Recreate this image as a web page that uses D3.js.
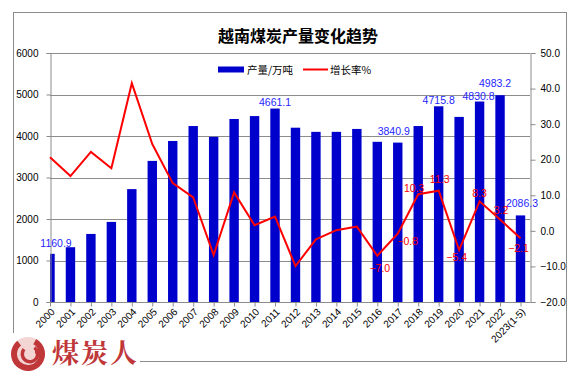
<!DOCTYPE html>
<html><head><meta charset="utf-8">
<script src="https://cdn.jsdelivr.net/npm/d3@7"></script>
<style>
html,body{margin:0;padding:0;background:#fff;}
svg{display:block;}
</style></head>
<body>
<svg id="chart" width="582" height="376"></svg>
<script>
const years = ["2000","2001","2002","2003","2004","2005","2006","2007","2008","2009","2010","2011","2012","2013","2014","2015","2016","2017","2018","2019","2020","2021","2022","2023(1-5)"];
const production = [1160.9,1320,1640,1930,2720,3400,3880,4240,3980,4410,4480,4661.1,4200,4100,4100,4170,3860,3840.9,4240,4715.8,4460,4830.8,4983.2,2086.3];
const growth = [20.7,15.4,22.2,17.6,41.5,24.4,13.4,9.4,-6.8,10.8,1.6,4.0,-9.9,-2.4,0.2,1.2,-7.0,-0.8,10.3,11.3,-5.4,8.3,3.2,-2.1];
const leftTicks = [0,1000,2000,3000,4000,5000,6000];
const rightTicks = [-20,-10,0,10,20,30,40,50];
const prodLabelIdx = [0,11,17,19,21,22,23];
const growthLabelIdx = [16,17,18,19,20,21,22,23];
const title = "越南煤炭产量变化趋势";
const seriesNames = ["产量/万吨","增长率%"];

const svg = d3.select("#chart");
const L = 50, R = 530, T = 53, B = 302;
const gray = "#8c8c8c";
const font = "'Liberation Sans', Arial, sans-serif";
const cjk = "'Noto Sans CJK SC', sans-serif";

const x = d3.scalePoint().domain(years).range([L, 520.5]);
const yL = d3.scaleLinear().domain([0,6000]).range([B,T]);
const yR = d3.scaleLinear().domain([-20,50]).range([B,T]);

// frame
svg.append("rect").attr("x",13.5).attr("y",12.5).attr("width",553).attr("height",349)
  .attr("fill","none").attr("stroke",gray).attr("stroke-width",1);

// title
svg.append("text").attr("x",298).attr("y",35).attr("text-anchor","middle")
  .attr("dominant-baseline","central").attr("font-family",cjk).attr("font-weight","bold")
  .attr("font-size",16).attr("fill","#000").text(title);

// gridlines
svg.append("g").selectAll("line").data(leftTicks.filter(d=>d>0)).join("line")
  .attr("x1",L).attr("x2",R).attr("y1",d=>Math.round(yL(d))+0.5).attr("y2",d=>Math.round(yL(d))+0.5)
  .attr("stroke",gray).attr("stroke-width",1);

// clip
svg.append("clipPath").attr("id","plotclip").append("rect")
  .attr("x",L).attr("y",T-40).attr("width",R-L).attr("height",B-T+40);

// bars
const bw = 9.4;
svg.append("g").attr("clip-path","url(#plotclip)").selectAll("rect").data(production).join("rect")
  .attr("x",(d,i)=>x(years[i])-bw/2).attr("width",bw)
  .attr("y",d=>yL(d)).attr("height",d=>B-yL(d)).attr("fill","#0000CC");

// left axis
const axL = svg.append("g").attr("transform",`translate(${L+0.5},0)`)
  .call(d3.axisLeft(yL).tickValues(leftTicks).tickSize(4).tickPadding(8).tickFormat(d3.format("d")));
// right axis
const axR = svg.append("g").attr("transform",`translate(${R+0.5},0)`)
  .call(d3.axisRight(yR).tickValues(rightTicks).tickSize(5).tickPadding(5).tickFormat(d3.format(".1f")));
// bottom axis
const axB = svg.append("g").attr("transform",`translate(0,${B+0.5})`)
  .call(d3.axisBottom(x).tickSize(4).tickSizeOuter(0).tickFormat(""));
[axL,axR,axB].forEach(a=>{
  a.select(".domain").attr("stroke",gray);
  a.selectAll(".tick line").attr("stroke",gray);
  a.selectAll("text").attr("font-family",font).attr("font-size",10).attr("fill","#000");
});
axB.select(".domain").attr("d",`M${L},0H${R+0.5}`);
// rotated category labels
svg.append("g").selectAll("text").data(years).join("text")
  .attr("transform",d=>`translate(${x(d)+3},${B+8}) rotate(-45)`)
  .attr("text-anchor","end").attr("dominant-baseline","central")
  .attr("font-family",font).attr("font-size",10).attr("fill","#000")
  .text(d=>d);

// line
const line = d3.line().x((d,i)=>x(years[i])).y(d=>yR(d));
svg.append("path").datum(growth).attr("d",line).attr("fill","none")
  .attr("stroke","#FF0000").attr("stroke-width",2).attr("stroke-linejoin","miter");

// bar labels
const prodOff = {0:[6,-11],11:[0,-7],17:[-4,-12],19:[0,-6.5],21:[-1,-5.5],22:[-5,-12.5],23:[1.5,-12]};
svg.append("g").selectAll("text").data(prodLabelIdx).join("text")
  .attr("x",i=>x(years[i])+prodOff[i][0]).attr("y",i=>yL(production[i])+prodOff[i][1])
  .attr("text-anchor","middle").attr("dominant-baseline","central")
  .attr("font-family",font).attr("font-size",10.5).attr("fill","#1f1fff")
  .text(i=>d3.format(".1f")(production[i]));

// growth labels
const grOff = {16:[2.5,12.5],17:[10,7],18:[-4,-6.5],19:[1,-12],20:[-2.5,6.7],21:[0,-8],22:[1,-9],23:[-2,10]};
svg.append("g").selectAll("text").data(growthLabelIdx).join("text")
  .attr("x",i=>x(years[i])+grOff[i][0]).attr("y",i=>yR(growth[i])+grOff[i][1])
  .attr("text-anchor","middle").attr("dominant-baseline","central")
  .attr("font-family",font).attr("font-size",10.5).attr("fill","#FF0000")
  .text(i=>d3.format(".1f")(growth[i]));

// legend
const lg = svg.append("g");
lg.append("rect").attr("x",218).attr("y",66.5).attr("width",26).attr("height",6).attr("fill","#0000CC");
lg.append("text").attr("x",247).attr("y",69.5).attr("dominant-baseline","central")
  .attr("font-family",cjk).attr("font-size",10.5).attr("fill","#000").text(seriesNames[0]);
lg.append("line").attr("x1",303).attr("x2",328).attr("y1",69.5).attr("y2",69.5)
  .attr("stroke","#FF0000").attr("stroke-width",2);
lg.append("text").attr("x",330).attr("y",69.5).attr("dominant-baseline","central")
  .attr("font-family",cjk).attr("font-size",10.5).attr("fill","#000").text(seriesNames[1]);

// logo
const logo = svg.append("g");
logo.append("rect").attr("x",8).attr("y",333).attr("width",132).attr("height",43).attr("fill","#fff");
const lc = "#c0373a";
logo.append("circle").attr("cx",28).attr("cy",354).attr("r",17).attr("fill","#f3d6d4");
logo.append("path").attr("d",d3.arc()({innerRadius:11,outerRadius:17,startAngle:0.5,endAngle:5.6}))
  .attr("transform","translate(28,354)").attr("fill",lc);
logo.append("path").attr("d",d3.arc()({innerRadius:6,outerRadius:9.5,startAngle:0.6,endAngle:5.4}))
  .attr("transform","translate(30,354)").attr("fill",lc);
logo.append("circle").attr("cx",38).attr("cy",352).attr("r",3).attr("fill",lc);
logo.append("text").attr("x",52).attr("y",351).attr("dominant-baseline","central")
  .attr("font-family","'Noto Serif CJK SC','Noto Sans CJK SC',serif").attr("font-weight","bold")
  .attr("font-size",27).attr("letter-spacing",2).attr("fill",lc).text("煤炭人");
</script>
</body></html>
